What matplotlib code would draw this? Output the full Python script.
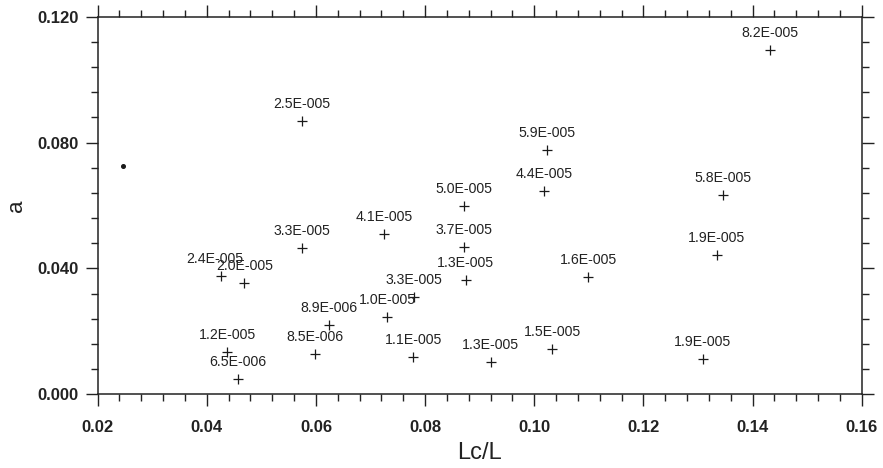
import matplotlib
matplotlib.use("Agg")
import matplotlib.pyplot as plt
from matplotlib.ticker import MultipleLocator, FormatStrFormatter

# Data (Lc/L, a, label)
lc_l = [0.1432, 0.0574, 0.1023, 0.1018, 0.1345, 0.0872, 0.0574, 0.0725,
        0.0872, 0.0874, 0.1099, 0.1334, 0.0426, 0.0469, 0.0780, 0.0731,
        0.0623, 0.0598, 0.0437, 0.0457, 0.0778, 0.0920, 0.1033, 0.1309]
a_vals = [0.1094, 0.0869, 0.0776, 0.0647, 0.0633, 0.0598, 0.0464, 0.0508,
          0.0469, 0.0363, 0.0374, 0.0443, 0.0377, 0.0353, 0.0310, 0.0245,
          0.0220, 0.0127, 0.0135, 0.0049, 0.0120, 0.0102, 0.0143, 0.0112]
labels = ["8.2E-005", "2.5E-005", "5.9E-005", "4.4E-005", "5.8E-005",
          "5.0E-005", "3.3E-005", "4.1E-005", "3.7E-005", "1.3E-005",
          "1.6E-005", "1.9E-005", "2.4E-005", "2.0E-005", "3.3E-005",
          "1.0E-005", "8.9E-006", "8.5E-006", "1.2E-005", "6.5E-006",
          "1.1E-005", "1.3E-005", "1.5E-005", "1.9E-005"]

# stray dot in the scan
dot_x = [0.0246]
dot_y = [0.0726]

label_font = ["Liberation Sans Narrow", "Liberation Sans", "DejaVu Sans"]

fig = plt.figure(figsize=(8.83, 4.68), dpi=100)
ax = fig.add_axes([0.1106, 0.1575, 0.8653, 0.8068])

ax.plot(lc_l, a_vals, linestyle="none", marker="+", markersize=7.5,
        markeredgewidth=0.9, color="#1a1a1a")
ax.plot(dot_x, dot_y, linestyle="none", marker="o", markersize=2.6,
        color="#1a1a1a")

for x, y, s in zip(lc_l, a_vals, labels):
    # the 2.4E-005 label sits a bit to the left in the original
    dx = -6 if s == "2.4E-005" else 0
    ax.annotate(s, (x, y), xytext=(dx, 17), textcoords="offset pixels",
                ha="center", va="center", fontsize=10.2,
                family=label_font, color="#222222")

ax.set_xlim(0.02, 0.16)
ax.set_ylim(0.0, 0.12)
ax.xaxis.set_major_locator(MultipleLocator(0.02))
ax.xaxis.set_minor_locator(MultipleLocator(0.004))
ax.yaxis.set_major_locator(MultipleLocator(0.04))
ax.yaxis.set_minor_locator(MultipleLocator(0.008))
ax.xaxis.set_major_formatter(FormatStrFormatter("%.2f"))
ax.yaxis.set_major_formatter(FormatStrFormatter("%.3f"))

ax.tick_params(which="both", direction="out", top=True, right=True,
               width=1.0, color="#222222")
ax.tick_params(which="major", length=8.8)
ax.tick_params(which="minor", length=5.2)
ax.tick_params(axis="x", which="major", pad=10)
ax.tick_params(axis="y", which="major", pad=5)
for lab in ax.get_xticklabels() + ax.get_yticklabels():
    lab.set_fontsize(12)
    lab.set_fontweight("bold")
    lab.set_family(["Liberation Sans", "DejaVu Sans"])
    lab.set_color("#222222")

for sp in ax.spines.values():
    sp.set_linewidth(1.1)
    sp.set_color("#222222")

ax.set_xlabel("Lc/L", fontsize=17, family=label_font, color="#222222",
              labelpad=5)
ax.set_ylabel("a", fontsize=16, family=["Liberation Sans", "DejaVu Sans"],
              color="#222222", labelpad=7)

fig.savefig("out.png", dpi=100)
